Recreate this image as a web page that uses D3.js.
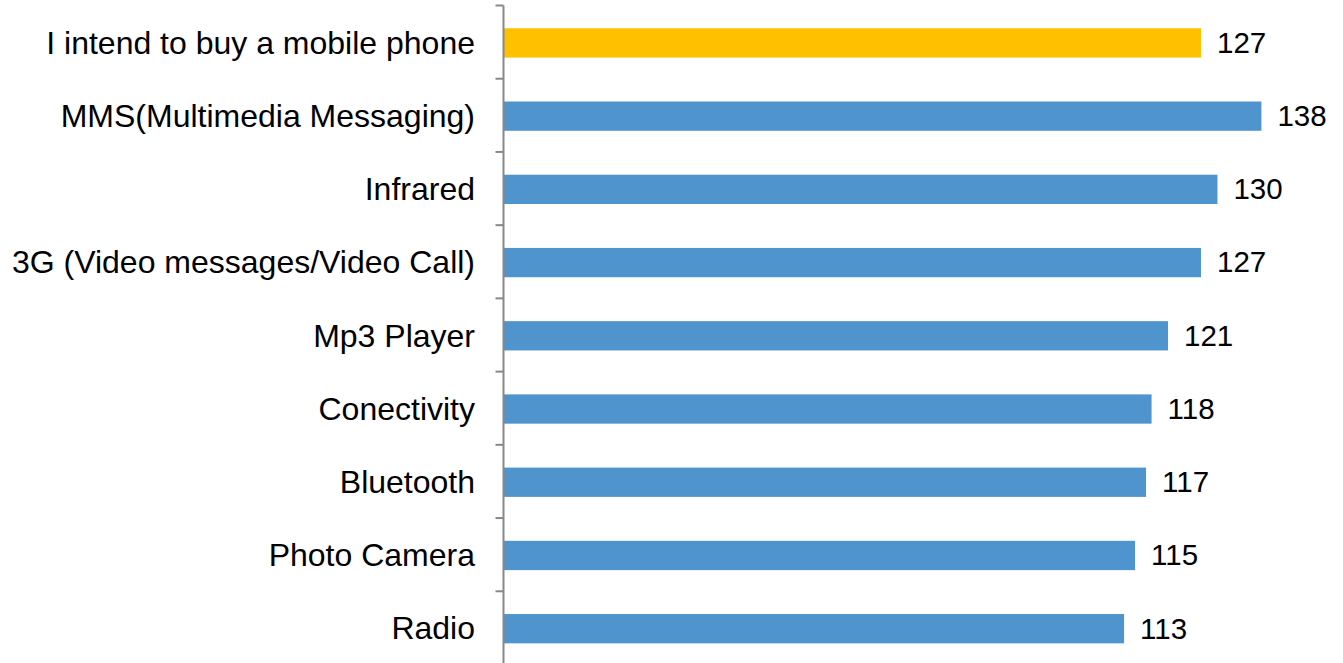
<!DOCTYPE html>
<html>
<head>
<meta charset="utf-8">
<script src="https://cdn.jsdelivr.net/npm/d3@7"></script>
<style>
  body { margin: 0; background: #fff; }
  text { font-family: "Liberation Sans", Arial, sans-serif; }
</style>
</head>
<body>
<svg id="canvas"></svg>
<script>
// features ranked
let categories = ['I intend to buy a mobile phone', 'MMS(Multimedia Messaging)', 'Infrared',
                  '3G (Video messages/Video Call)', 'Mp3 Player', 'Conectivity', 'Bluetooth',
                  'Photo Camera', 'Radio']
let values = [127, 138, 130, 127, 121, 118, 117, 115, 113]
let highlight = ['I intend to buy a mobile phone']

let width = 1343
let height = 663
let axisX = 503.5

let canvas = d3.select('#canvas')
               .attr('width', width)
               .attr('height', height)

let xScale = d3.scaleLinear()
               .domain([0, 140])
               .range([axisX, axisX + 140 * 5.492])

let yScale = d3.scaleBand()
               .domain(categories)
               .range([5.5, 664.5])
               .paddingInner(0.6)
               .paddingOuter(0.3)

let step = yScale.step()

// bars
canvas.selectAll('.bar')
      .data(categories)
      .enter()
      .append('rect')
      .attr('class', 'bar')
      .attr('x', xScale(0))
      .attr('y', (d) => yScale(d) + 0.8)
      .attr('width', (d, i) => xScale(values[i]) - xScale(0))
      .attr('height', yScale.bandwidth())
      .attr('fill', (d) => highlight.includes(d) ? '#FFC000' : '#4F94CD')

// value labels
canvas.selectAll('.value')
      .data(categories)
      .enter()
      .append('text')
      .attr('class', 'value')
      .attr('x', (d, i) => xScale(values[i]) + 16)
      .attr('y', (d) => yScale(d) + yScale.bandwidth() / 2)
      .attr('dy', '0.36em')
      .attr('font-size', '29.5px')
      .attr('fill', '#000')
      .text((d, i) => values[i])

// category labels
canvas.selectAll('.label')
      .data(categories)
      .enter()
      .append('text')
      .attr('class', 'label')
      .attr('x', 475)
      .attr('y', (d) => yScale(d) + yScale.bandwidth() / 2)
      .attr('dy', '0.36em')
      .attr('text-anchor', 'end')
      .attr('font-size', '32px')
      .attr('fill', '#000')
      .text((d) => d)

// axis line with ticks between categories
let boundaries = categories.map((d) => yScale(d) - step * 0.3)
boundaries.push(yScale(categories[categories.length - 1]) + yScale.bandwidth() + step * 0.3)

canvas.append('line')
      .attr('x1', axisX).attr('x2', axisX)
      .attr('y1', boundaries[0]).attr('y2', height)
      .attr('stroke', '#888')
      .attr('stroke-width', 2)

canvas.selectAll('.tick')
      .data(boundaries)
      .enter()
      .append('line')
      .attr('class', 'tick')
      .attr('x1', axisX - 8).attr('x2', axisX)
      .attr('y1', (d) => d).attr('y2', (d) => d)
      .attr('stroke', '#888')
      .attr('stroke-width', 2)
</script>
</body>
</html>
